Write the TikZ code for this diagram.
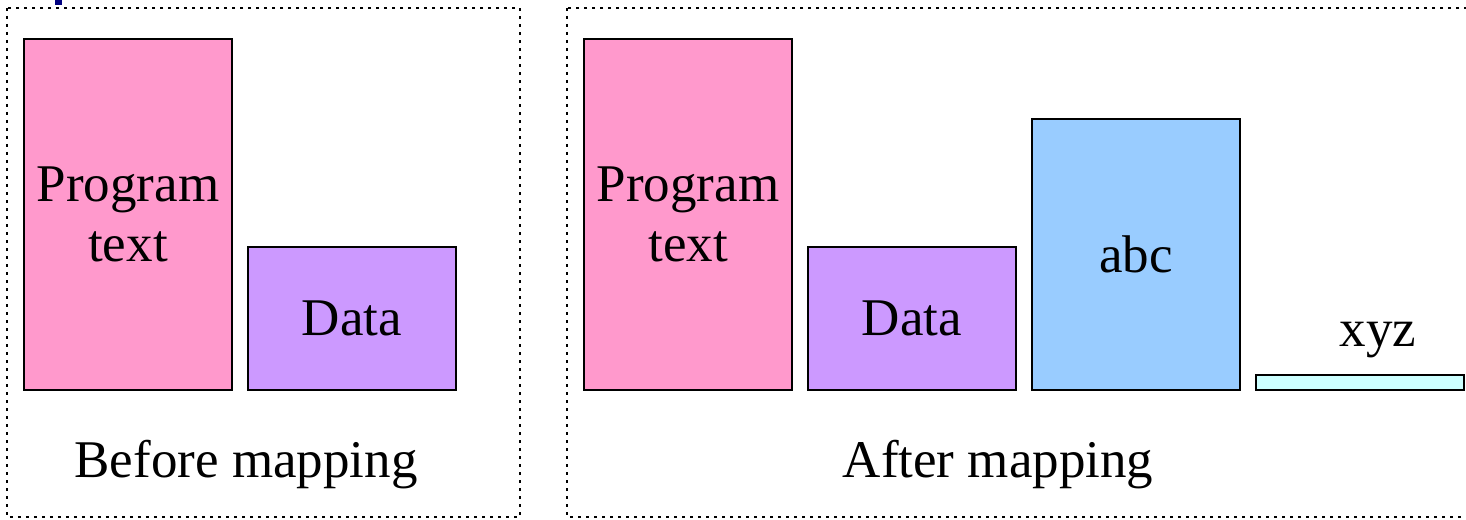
\documentclass[tikz,border=0pt]{standalone}
\usepackage{fontspec}
\setmainfont{Liberation Serif}
\usetikzlibrary{positioning}

\definecolor{progpink}{RGB}{255,153,204}
\definecolor{datapurple}{RGB}{204,153,255}
\definecolor{abcblue}{RGB}{153,204,255}
\definecolor{xyzcyan}{RGB}{204,255,255}
\definecolor{marknavy}{RGB}{0,0,128}

\tikzset{
  seg/.style={draw=black, line width=1pt, inner sep=0pt, anchor=south west,
    minimum width=104pt, align=center,
    font=\fontsize{26.5}{30}\selectfont},
  frame/.style={line width=1.3pt, dash pattern=on 1.3pt off 2.7pt},
  caption/.style={font=\fontsize{26.5}{30}\selectfont}
}

\begin{document}
\begin{tikzpicture}[x=0.5pt, y=-0.5pt]
        \useasboundingbox (0,0) rectangle (1466,519);
        \clip (0,0) rectangle (1466,519);

        % mark at top
        \fill[marknavy] (55,0) rectangle (62,5);

        % Before mapping
        \draw[frame] (7,8) rectangle (520,517);
        \node[seg, fill=progpink, minimum height=175.5pt] (progA) at (23,391) {Program\\text};
        \node[seg, fill=datapurple, minimum height=71.5pt] (dataA) at (247,391) {Data};
        \node[caption] (before) at (246,465) {Before mapping};

        % After mapping
        \draw[frame] (567,8) rectangle (1480,517);
        \node[seg, fill=progpink, minimum height=175.5pt] (progB) at (583,391) {Program\\text};
        \node[seg, fill=datapurple, minimum height=71.5pt] (dataB) at (807,391) {Data};
        \node[seg, fill=abcblue, minimum height=135.5pt] (abc) at (1031,391) {abc};
        \node[seg, fill=xyzcyan, minimum height=7.5pt] (xyz) at (1255,391) {};
        \node[caption] (xyzlabel) at (1378,340) {xyz};
        \node[caption] (after) at (998,465) {After mapping};

    \end{tikzpicture}
\end{document}
